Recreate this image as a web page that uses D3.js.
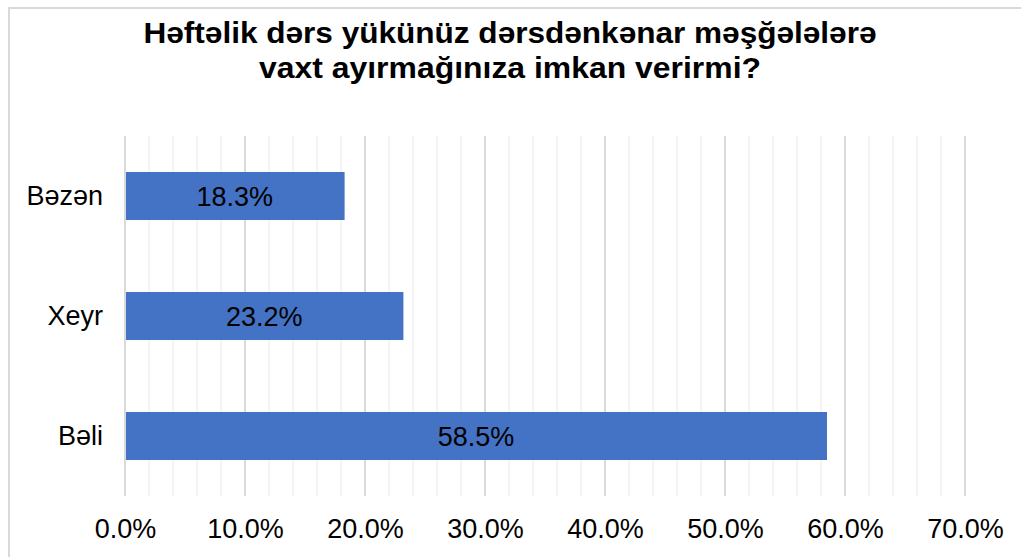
<!DOCTYPE html>
<html>
<head>
<meta charset="utf-8">
<script src="https://cdn.jsdelivr.net/npm/d3@7"></script>
<style>
  body { margin: 0; background: #fff; }
  svg { display: block; font-family: "Liberation Sans", Arial, sans-serif; }
</style>
</head>
<body>
<div id="chart"></div>
<script>
// data
const titleLines = ["Həftəlik dərs yükünüz dərsdənkənar məşğələlərə", "vaxt ayırmağınıza imkan verirmi?"];
const categories = ["Bəzən", "Xeyr", "Bəli"];
const values = [18.3, 23.2, 58.5];
const xTicks = [0, 10, 20, 30, 40, 50, 60, 70];

const W = 1021, H = 557;
const margin = { top: 136, right: 56, bottom: 61, left: 125 };
const width = W - margin.left - margin.right;   // 840 -> 70%
const height = H - margin.top - margin.bottom;  // 360

const svg = d3.select("#chart").append("svg")
    .attr("width", W)
    .attr("height", H);

// rand
svg.append("rect")
    .attr("x", 9).attr("y", 8)
    .attr("width", W + 10).attr("height", H + 10)
    .attr("fill", "none")
    .attr("stroke", "#d9d9d9")
    .attr("stroke-width", 2);

// basliq
const title = svg.append("g");
titleLines.forEach((t, i) => {
    title.append("text")
        .attr("x", 510)
        .attr("y", 43 + i * 35)
        .attr("text-anchor", "middle")
        .attr("font-size", 30)
        .attr("font-weight", "bold")
        .attr("fill", "#000")
        .attr("textLength", i === 0 ? 733 : 502)
        .attr("lengthAdjust", "spacingAndGlyphs")
        .text(t);
});

const g = svg.append("g")
    .attr("transform", `translate(${margin.left},${margin.top})`);

const x = d3.scaleLinear().domain([0, 70]).range([0, width]);
const y = d3.scaleBand().domain(categories).range([0, height]).paddingInner(0.6).paddingOuter(0.3);

// minor grid (2%)
const minor = d3.range(0, 71, 2).filter(v => v % 10 !== 0);
g.selectAll(".minor").data(minor).enter().append("line")
    .attr("x1", d => x(d)).attr("x2", d => x(d))
    .attr("y1", 0).attr("y2", height)
    .attr("stroke", "#efefef")
    .attr("stroke-width", 1.5);

// major grid
g.selectAll(".major").data(xTicks).enter().append("line")
    .attr("x1", d => x(d)).attr("x2", d => x(d))
    .attr("y1", 0).attr("y2", height)
    .attr("stroke", "#d9d9d9")
    .attr("stroke-width", 2);

// bars
g.selectAll(".bar").data(values).enter().append("rect")
    .attr("x", x(0) + 1)
    .attr("y", (d, i) => y(categories[i]))
    .attr("width", d => x(d) - x(0) - 1)
    .attr("height", y.bandwidth())
    .attr("fill", "#4472C4");

// bar labels
g.selectAll(".lbl").data(values).enter().append("text")
    .attr("x", d => x(d) / 2)
    .attr("y", (d, i) => y(categories[i]) + y.bandwidth() / 2)
    .attr("dy", "0.36em")
    .attr("text-anchor", "middle")
    .attr("font-size", 27)
    .attr("fill", "#000")
    .text(d => d.toFixed(1) + "%");

// y axis (categories)
const yAxis = g.append("g")
    .call(d3.axisLeft(y).tickSize(0).tickPadding(22));
yAxis.select(".domain").remove();
yAxis.selectAll("text")
    .attr("font-size", 27)
    .attr("font-family", "Liberation Sans, Arial, sans-serif")
    .attr("fill", "#000");

// x axis
const xAxis = g.append("g")
    .attr("transform", `translate(0,${height})`)
    .call(d3.axisBottom(x).tickValues(xTicks).tickSize(0).tickPadding(23).tickFormat(d => d.toFixed(1) + "%"));
xAxis.select(".domain").remove();
xAxis.selectAll("text")
    .attr("font-size", 27)
    .attr("font-family", "Liberation Sans, Arial, sans-serif")
    .attr("fill", "#000");
</script>
</body>
</html>
